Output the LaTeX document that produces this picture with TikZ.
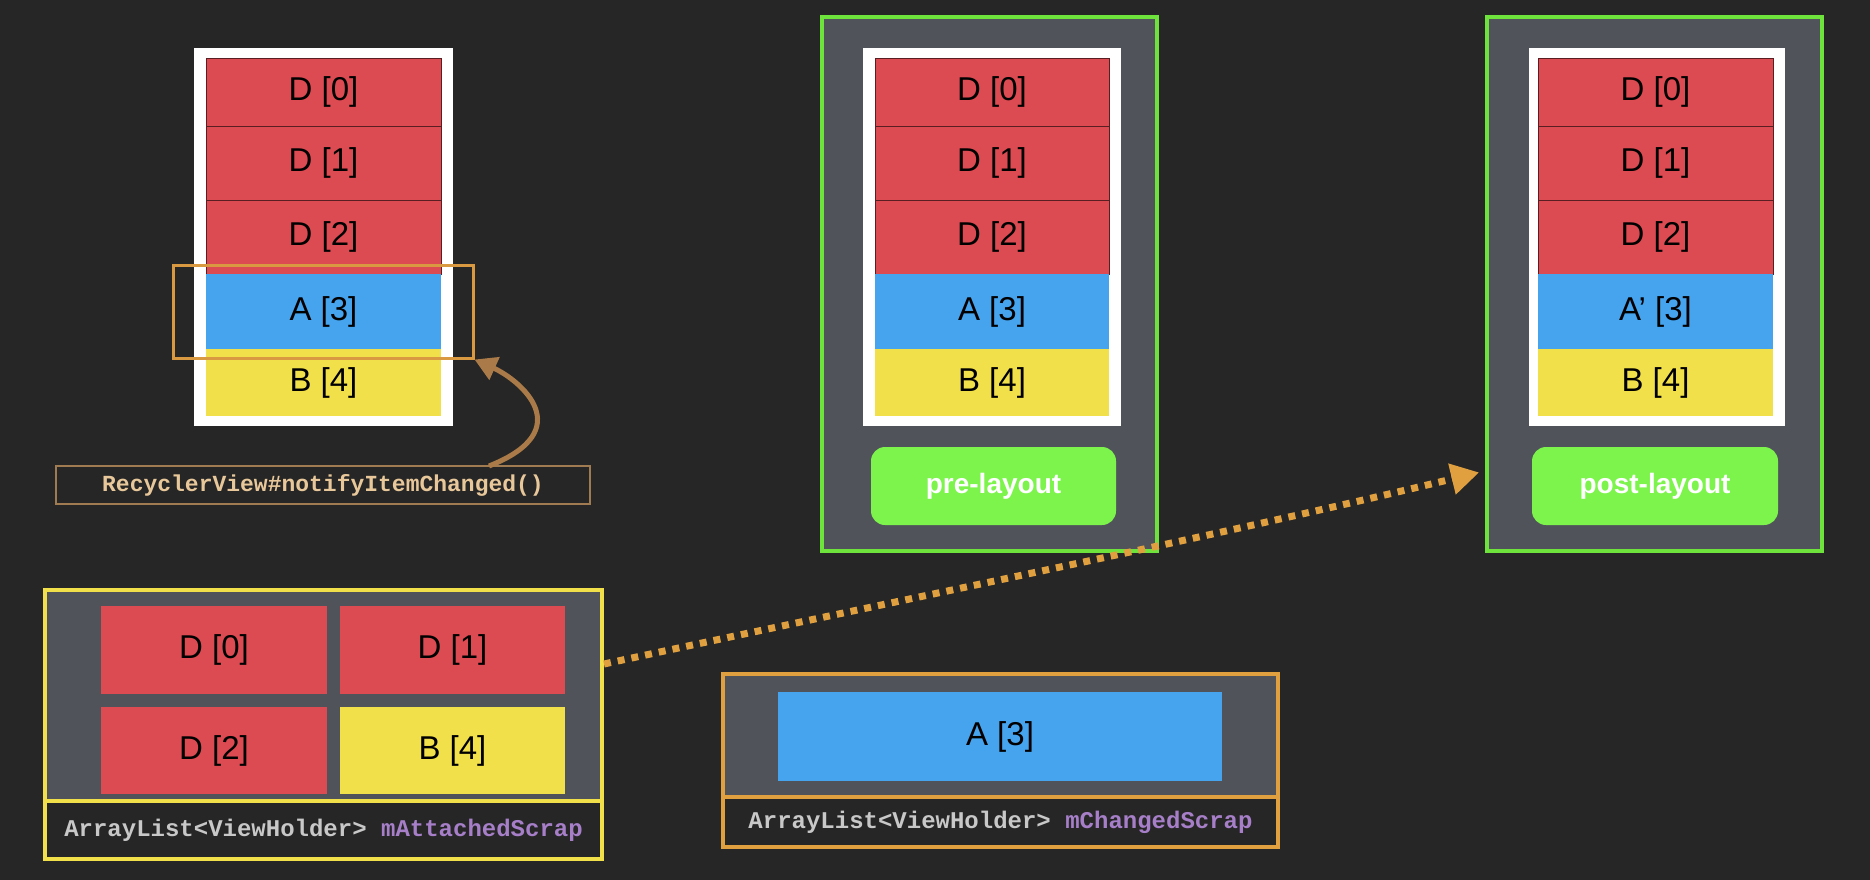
\documentclass[tikz,border=0pt]{standalone}
\usepackage{fontspec}
\setmainfont{Liberation Sans}
\setmonofont{Liberation Mono}
\usetikzlibrary{arrows.meta}
\definecolor{bg}{HTML}{262626}
\definecolor{panel}{HTML}{50535A}
\definecolor{cred}{HTML}{DC4A52}
\definecolor{cblue}{HTML}{46A3ED}
\definecolor{cyel}{HTML}{F2E04B}
\definecolor{cgreen}{HTML}{7CF44C}
\definecolor{gborder}{HTML}{6EE33C}
\definecolor{corange}{HTML}{E0A040}
\definecolor{ctan}{HTML}{E8C89A}
\definecolor{cbrown}{HTML}{A07A50}
\definecolor{cpurple}{HTML}{A67FC8}
\definecolor{cgraytxt}{HTML}{C8C8C8}
\begin{document}
\begin{tikzpicture}[x=1pt,y=-1pt,
  cell/.style={draw=black!60!cred, line width=0.8pt, inner sep=0pt, font=\fontsize{33}{33}\selectfont, text=black},
  frame/.style={fill=white, draw=none},
  pan/.style={fill=panel, draw=gborder, line width=4pt},
  btn/.style={fill=cgreen, rounded corners=14pt, inner sep=0pt, text=white, font=\fontsize{28}{28}\selectfont\bfseries},
  mono/.style={font=\ttfamily\bfseries\fontsize{23}{23}\selectfont}]
\fill[bg] (0,0) rectangle (1870,880);
\useasboundingbox (0,0) rectangle (1870,880);

% ---------- left phone ----------
\fill[white] (194,48) rectangle (453,426);
\node[cell, fill=cred, minimum width=235pt, minimum height=68pt] (l0) at (323.5,92) {D [0]};
\node[cell, fill=cred, minimum width=235pt, minimum height=74pt] (l1) at (323.5,163) {D [1]};
\node[cell, fill=cred, minimum width=235pt, minimum height=74pt] (l2) at (323.5,237) {D [2]};
\node[cell, fill=cblue, draw=none, minimum width=235pt, minimum height=75pt] (l3) at (323.5,311.5) {A [3]};
\node[cell, fill=cyel, draw=none, minimum width=235pt, minimum height=67pt] (l4) at (323.5,382.5) {B [4]};
\node[draw=corange!80!brown, line width=3pt, minimum width=300pt, minimum height=93pt] (hl) at (323,311.5) {};
\node[draw=cbrown, line width=1.5pt, minimum width=534pt, minimum height=38pt, text=ctan, mono] (call) at (323,485) {RecyclerView\#notifyItemChanged()};
\coordinate (cs) at (489,466);
\draw[cbrown!90!orange, line width=5pt, -{Triangle[length=22pt,width=24pt]}] (cs) .. controls (580,430) and (520,380) .. (hl.south east);

% ---------- pre-layout ----------
\node[pan, minimum width=335pt, minimum height=534pt] (pre) at (989.5,284) {};
\fill[white] (863,48) rectangle (1121,426);
\node[cell, fill=cred, minimum width=234pt, minimum height=68pt] (p0) at (992,92) {D [0]};
\node[cell, fill=cred, minimum width=234pt, minimum height=74pt] (p1) at (992,163) {D [1]};
\node[cell, fill=cred, minimum width=234pt, minimum height=74pt] (p2) at (992,237) {D [2]};
\node[cell, fill=cblue, draw=none, minimum width=234pt, minimum height=75pt] (p3) at (992,311.5) {A [3]};
\node[cell, fill=cyel, draw=none, minimum width=234pt, minimum height=67pt] (p4) at (992,382.5) {B [4]};
\node[btn, minimum width=245pt, minimum height=78pt] (prebtn) at (993.5,486) {pre-layout};

% ---------- post-layout ----------
\node[pan, minimum width=335pt, minimum height=534pt] (post) at (1654.5,284) {};
\fill[white] (1529,48) rectangle (1785,426);
\node[cell, fill=cred, minimum width=235pt, minimum height=68pt] (q0) at (1655.5,92) {D [0]};
\node[cell, fill=cred, minimum width=235pt, minimum height=74pt] (q1) at (1655.5,163) {D [1]};
\node[cell, fill=cred, minimum width=235pt, minimum height=74pt] (q2) at (1655.5,237) {D [2]};
\node[cell, fill=cblue, draw=none, minimum width=235pt, minimum height=75pt] (q3) at (1655.5,311.5) {A’ [3]};
\node[cell, fill=cyel, draw=none, minimum width=235pt, minimum height=67pt] (q4) at (1655.5,382.5) {B [4]};
\node[btn, minimum width=246pt, minimum height=78pt] (postbtn) at (1655,486) {post-layout};

% ---------- attached scrap ----------
\node[fill=panel, draw=cyel, line width=4pt, minimum width=557pt, minimum height=211pt] (att) at (323.5,695.5) {};
\node[fill=bg, draw=cyel, line width=4pt, minimum width=557pt, minimum height=58pt, mono, text=cgraytxt, font=\ttfamily\bfseries\fontsize{24}{24}\selectfont] (attl) at (323.5,830) {ArrayList<ViewHolder> \textcolor{cpurple}{mAttachedScrap}};
\node[cell, fill=cred, draw=none, minimum width=226pt, minimum height=88pt] (a0) at (214,650) {D [0]};
\node[cell, fill=cred, draw=none, minimum width=225pt, minimum height=88pt] (a1) at (452.5,650) {D [1]};
\node[cell, fill=cred, draw=none, minimum width=226pt, minimum height=87pt] (a2) at (214,750.5) {D [2]};
\node[cell, fill=cyel, draw=none, minimum width=225pt, minimum height=87pt] (a4) at (452.5,750.5) {B [4]};

% ---------- changed scrap ----------
\node[fill=panel, draw=corange, line width=4pt, minimum width=555pt, minimum height=123pt] (chg) at (1000.5,735.5) {};
\node[fill=bg, draw=corange, line width=4pt, minimum width=555pt, minimum height=50pt, font=\ttfamily\bfseries\fontsize{24}{24}\selectfont, text=cgraytxt] (chgl) at (1000.5,822) {ArrayList<ViewHolder> \textcolor{cpurple}{mChangedScrap}};
\node[cell, fill=cblue, draw=none, minimum width=444pt, minimum height=89pt] (c3) at (1000,736.5) {A [3]};

% ---------- dotted arrow ----------
\draw[corange, line width=7pt, dash pattern=on 7pt off 7pt, -{Triangle[length=28pt,width=30pt]}, shorten >=6pt]
  (att.east |- 0,664) .. controls (900,600) and (1200,540) .. (post.west |- 0,471);
\end{tikzpicture}
\end{document}
